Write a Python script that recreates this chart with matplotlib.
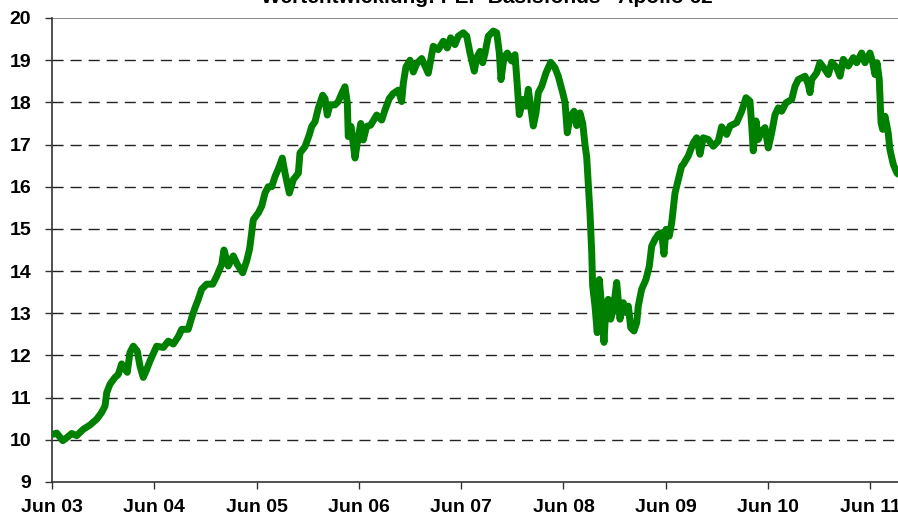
import matplotlib
matplotlib.use("Agg")
import matplotlib.pyplot as plt
import numpy as np

# years since June 2003
years = [0.010, 0.046, 0.105, 0.144, 0.193, 0.241, 0.306, 0.371, 0.437, 0.486, 0.518, 0.535, 0.567, 0.616, 0.648,
         0.681, 0.714, 0.736, 0.762, 0.795, 0.834, 0.860, 0.892, 0.926, 0.958, 1.023, 1.088, 1.137, 1.186, 1.235,
         1.268, 1.332, 1.366, 1.398, 1.430, 1.463, 1.512, 1.571, 1.610, 1.659, 1.681, 1.723, 1.772, 1.811, 1.864,
         1.903, 1.929, 1.935, 1.968, 2.017, 2.050, 2.082, 2.114, 2.148, 2.180, 2.222, 2.251, 2.278, 2.320, 2.359,
         2.408, 2.424, 2.473, 2.515, 2.539, 2.571, 2.603, 2.646, 2.669, 2.691, 2.718, 2.766, 2.799, 2.832, 2.864,
         2.887, 2.896, 2.923, 2.962, 2.984, 3.018, 3.043, 3.076, 3.115, 3.174, 3.223, 3.255, 3.297, 3.336, 3.385,
         3.418, 3.434, 3.460, 3.500, 3.532, 3.565, 3.614, 3.678, 3.727, 3.776, 3.825, 3.864, 3.897, 3.939, 3.972,
         4.021, 4.054, 4.086, 4.128, 4.152, 4.184, 4.210, 4.233, 4.265, 4.314, 4.347, 4.373, 4.389, 4.418, 4.451,
         4.494, 4.526, 4.549, 4.568, 4.607, 4.633, 4.656, 4.679, 4.705, 4.731, 4.754, 4.787, 4.829, 4.875, 4.917,
         4.949, 4.992, 5.015, 5.037, 5.064, 5.103, 5.129, 5.161, 5.188, 5.210, 5.227, 5.243, 5.259, 5.276, 5.285,
         5.308, 5.330, 5.350, 5.373, 5.396, 5.415, 5.438, 5.461, 5.487, 5.520, 5.552, 5.585, 5.611, 5.634, 5.657,
         5.689, 5.716, 5.731, 5.764, 5.806, 5.839, 5.862, 5.894, 5.927, 5.960, 5.982, 6.002, 6.034, 6.058, 6.090,
         6.122, 6.155, 6.171, 6.220, 6.269, 6.302, 6.334, 6.366, 6.415, 6.464, 6.513, 6.546, 6.595, 6.628, 6.693,
         6.742, 6.784, 6.823, 6.840, 6.855, 6.882, 6.904, 6.938, 6.970, 7.002, 7.035, 7.068, 7.100, 7.133, 7.175,
         7.231, 7.263, 7.295, 7.361, 7.393, 7.410, 7.426, 7.475, 7.507, 7.556, 7.589, 7.622, 7.671, 7.703, 7.735,
         7.784, 7.833, 7.866, 7.915, 7.947, 7.996, 8.023, 8.045, 8.065, 8.087, 8.104, 8.120, 8.143, 8.174, 8.191,
         8.224, 8.259, 8.270]

values = [10.13, 10.16, 9.98, 10.05, 10.15, 10.10, 10.25, 10.35, 10.49, 10.65, 10.80, 11.12, 11.32, 11.48, 11.55,
          11.80, 11.67, 11.60, 12.07, 12.22, 12.10, 11.75, 11.48, 11.67, 11.87, 12.22, 12.19, 12.34, 12.27, 12.45,
          12.62, 12.62, 12.90, 13.13, 13.33, 13.57, 13.69, 13.69, 13.88, 14.16, 14.50, 14.12, 14.36, 14.16, 13.96,
          14.24, 14.50, 14.59, 15.22, 15.38, 15.54, 15.85, 16.00, 16.00, 16.24, 16.48, 16.68, 16.32, 15.85, 16.17,
          16.32, 16.80, 16.95, 17.23, 17.43, 17.54, 17.86, 18.17, 18.09, 17.70, 17.94, 17.94, 18.02, 18.21, 18.37,
          17.98, 17.19, 17.43, 16.68, 17.03, 17.50, 17.11, 17.43, 17.46, 17.70, 17.58, 17.82, 18.09, 18.21, 18.29,
          18.02, 18.45, 18.84, 19.00, 18.72, 18.92, 19.04, 18.69, 19.33, 19.25, 19.45, 19.29, 19.53, 19.37, 19.57,
          19.65, 19.57, 19.17, 18.74, 19.06, 19.21, 18.94, 19.17, 19.57, 19.69, 19.65, 19.17, 18.54, 19.06, 19.17,
          18.98, 19.13, 18.38, 17.71, 18.07, 17.91, 18.31, 17.91, 17.44, 17.75, 18.23, 18.38, 18.70, 18.95, 18.82,
          18.62, 18.23, 18.00, 17.28, 17.65, 17.79, 17.45, 17.75, 17.50, 17.00, 16.70, 16.02, 15.38, 14.44, 13.65,
          13.17, 12.54, 13.80, 13.17, 12.31, 13.17, 13.33, 12.86, 13.09, 13.73, 12.86, 13.25, 13.02, 13.17, 12.66,
          12.58, 12.78, 13.17, 13.57, 13.80, 14.12, 14.59, 14.75, 14.87, 14.91, 14.40, 14.99, 14.83, 15.15, 15.85,
          16.17, 16.49, 16.53, 16.73, 17.04, 17.16, 16.77, 17.16, 17.12, 16.96, 17.08, 17.42, 17.24, 17.44, 17.52,
          17.79, 18.11, 18.03, 17.44, 16.85, 17.56, 17.12, 17.32, 17.40, 16.92, 17.28, 17.71, 17.87, 17.79, 17.99,
          18.07, 18.38, 18.54, 18.62, 18.42, 18.23, 18.54, 18.70, 18.94, 18.78, 18.66, 18.95, 18.82, 18.62, 19.02,
          18.86, 19.06, 18.94, 19.17, 18.94, 19.17, 18.94, 18.66, 18.94, 18.54, 17.52, 17.36, 17.67, 17.28, 16.88,
          16.53, 16.33, 16.30]

tick_labels = ["Jun 03", "Jun 04", "Jun 05", "Jun 06", "Jun 07", "Jun 08", "Jun 09", "Jun 10", "Jun 11"]
y_ticks = list(range(9, 21))
title = "Wertentwicklung: PEP Basisfonds - Apollo 62"

plt.rcParams['font.family'] = ['Liberation Sans', 'DejaVu Sans']

fig = plt.figure(figsize=(8.98, 5.21), dpi=100)
ax = fig.add_axes([52/898, 39/521, 846/898, 464/521])

for v in y_ticks[1:-1]:
    ax.axhline(v, color='#222222', lw=1.0, linestyle=(0, (8, 5)), zorder=1)
ax.axhline(20, color='#8c8c8c', lw=1.5, zorder=1)

ax.plot(years, values, color='#008000', lw=5.0, solid_joinstyle='round', solid_capstyle='round', zorder=3)

ax.set_xlim(0, 8.27)
ax.set_ylim(9, 20)
ax.set_xticks(range(len(tick_labels)))
ax.set_xticklabels(tick_labels, fontsize=14, fontweight='bold')
ax.set_yticks(y_ticks)
ax.set_yticklabels([str(v) for v in y_ticks], fontsize=14, fontweight='bold')
ax.tick_params(axis='both', direction='out', length=5, width=1, color='#333333')
ax.tick_params(axis='x', pad=7)
ax.tick_params(axis='y', pad=10)

for s in ['top', 'right']:
    ax.spines[s].set_visible(False)
for s in ['left', 'bottom']:
    ax.spines[s].set_color('#333333')
    ax.spines[s].set_linewidth(1.2)

fig.text(0.542, 1 - 3/521, title, ha='center', va='baseline', fontsize=15, fontweight='bold')

fig.savefig("out.png", dpi=100)
